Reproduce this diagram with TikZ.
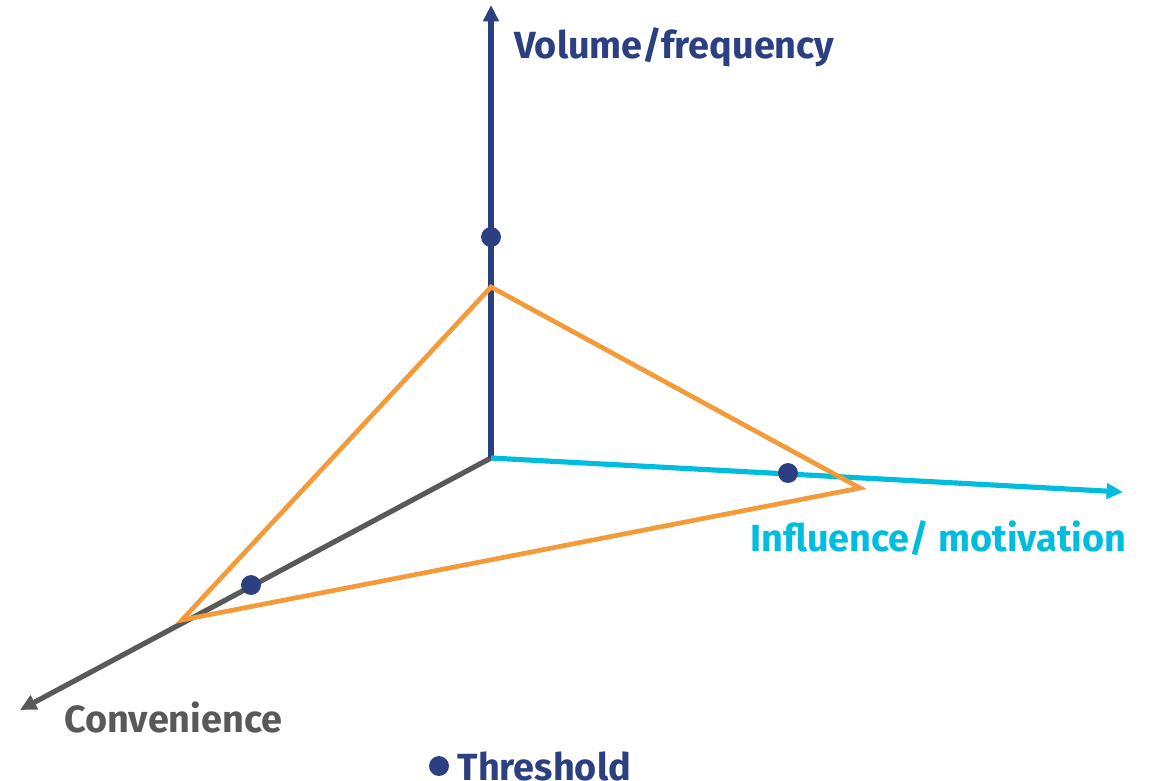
\documentclass[tikz,border=0pt]{standalone}
\usepackage{fontspec}
\setmainfont{Fira Sans}
\usetikzlibrary{arrows.meta,positioning}
\definecolor{axisblue}{HTML}{2C3F80}
\definecolor{axiscyan}{HTML}{00BDE0}
\definecolor{axisgray}{HTML}{595959}
\definecolor{triorange}{HTML}{F59A38}
\tikzset{
        % axes
        axis_line/.style={line width=4.4pt, -{Triangle[length=14pt,width=13pt]}},
        % labels
        axis_label/.style={font=\fontsize{32.3}{36}\selectfont\bfseries, inner sep=0pt, anchor=west},
        % threshold dots
        dot_point/.style={circle, fill=axisblue, inner sep=0pt, minimum size=17pt},
        % orange triangle
        tri_line/.style={triorange, line width=4pt, line join=miter}
}
\begin{document}
\begin{tikzpicture}[x=0.03cm, y=-0.03cm]
    \useasboundingbox (0,0) rectangle (1156,780);
    \coordinate (origin) at (491,458);
    \coordinate (vol_end) at (491,5);
    \coordinate (inf_end) at (1123,492);
    \coordinate (con_end) at (20,710);
    \coordinate (tri_top) at (491,287);
    \coordinate (tri_right) at (860,488);
    \coordinate (tri_left) at (182,620);

    \draw[axis_line, axisgray] (origin) -- (con_end);
    \draw[axis_line, axisblue] (origin) -- (vol_end);
    \draw[axis_line, axiscyan] (origin) -- (inf_end);
    \draw[tri_line] (tri_top) -- (tri_right) -- (tri_left) -- cycle;

    \node[dot_point] (dot_vol) at (491,237) {};
    \node[dot_point] (dot_inf) at (788,473) {};
    \node[dot_point] (dot_con) at (251,585) {};

    \node[axis_label, axisblue] (lbl_vol) at (514,47) {Volume/frequency};
    \node[axis_label, axiscyan] (lbl_inf) at (750,538) {Influence/ motivation};
    \node[axis_label, axisgray] (lbl_con) at (64,717) {Convenience};

    \node[dot_point] (dot_key) at (439,766) {};
    \node[axis_label, axisblue, right=7pt of dot_key] (lbl_key) {Threshold};
\end{tikzpicture}
\end{document}
